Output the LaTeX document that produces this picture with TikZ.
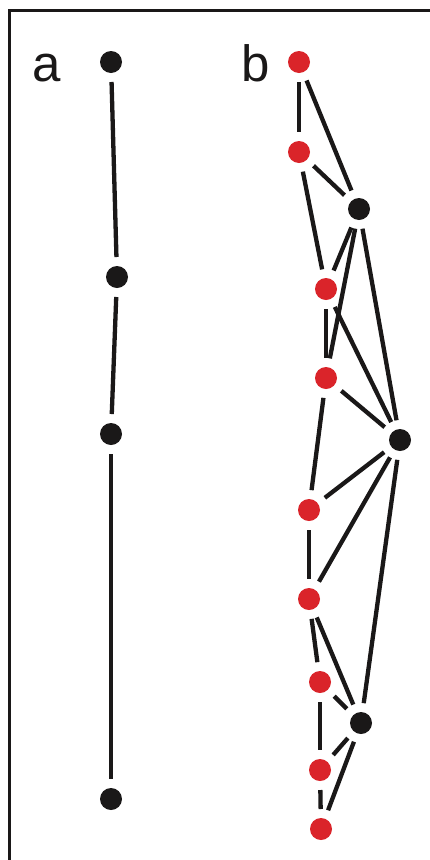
\documentclass[tikz,border=0pt]{standalone}
\usepackage{fontspec}
\setmainfont{Liberation Sans}
\definecolor{dotred}{RGB}{218,36,42}
\definecolor{ink}{RGB}{26,24,24}
\begin{document}
\begin{tikzpicture}[x=1pt,y=-1pt,
  dotb/.style={circle,fill=ink,inner sep=0pt,minimum size=22pt,outer sep=9pt},
  dotr/.style={circle,fill=dotred,inner sep=0pt,minimum size=22pt,outer sep=9pt},
  edge/.style={draw=ink,line width=4.3pt},
  lab/.style={inner sep=0pt,anchor=base west,font=\fontsize{51}{51}\selectfont,text=ink}]
\useasboundingbox (0,0) rectangle (430,860);
\fill[white] (0,0) rectangle (430,860);
\draw[ink,line width=3pt] (9,860) -- (9,10) -- (430,10);
\node[lab] (la) at (32,81) {a};
\node[lab] (lb) at (241,81) {b};
% panel a
\node[dotb] (a1) at (111,62) {};
\node[dotb] (a2) at (117,277) {};
\node[dotb] (a3) at (111,434) {};
\node[dotb] (a4) at (111,799) {};
\draw[edge] (a1) -- (a2);
\draw[edge] (a2) -- (a3);
\draw[edge] (a3) -- (a4);
% panel b
\node[dotr] (b1) at (299,62) {};
\node[dotr] (b2) at (299,152) {};
\node[dotr] (b3) at (326,289) {};
\node[dotr] (b4) at (326,378) {};
\node[dotr] (b5) at (309,510) {};
\node[dotr] (b6) at (309,599) {};
\node[dotr] (b7) at (320,682) {};
\node[dotr] (b8) at (320,770) {};
\node[dotr] (b9) at (321,829) {};
\node[dotb] (B1) at (359,209) {};
\node[dotb] (B2) at (400,440) {};
\node[dotb] (B3) at (361,723) {};
\foreach \u/\v in {b1/b2,b1/B1,b2/B1,b2/b3,B1/b3,B1/b4,B1/B2,b3/b4,b3/B2,b4/B2,
  b4/b5,b5/B2,b5/b6,b6/B2,B2/B3,b6/b7,b6/B3,b7/B3,b7/b8,b8/B3,b8/b9,b9/B3}
  \draw[edge] (\u) -- (\v);
\end{tikzpicture}
\end{document}
